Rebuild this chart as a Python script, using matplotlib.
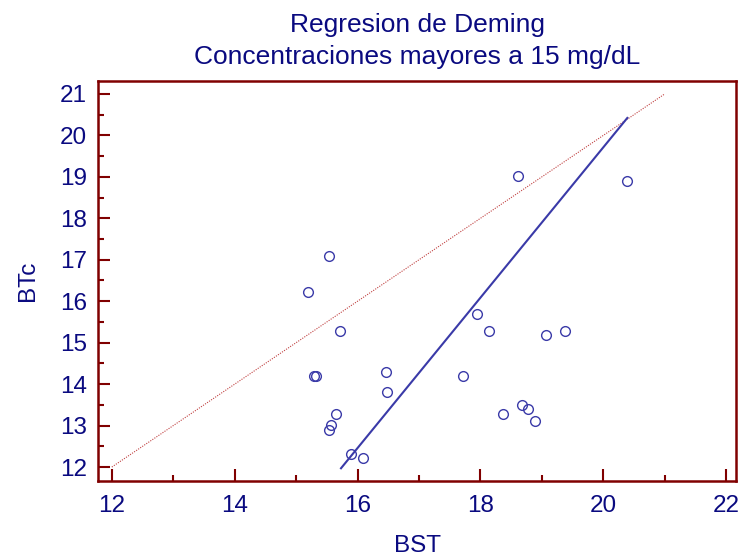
import matplotlib.pyplot as plt
from matplotlib.ticker import MultipleLocator

plt.rcParams['font.family'] = ['Liberation Sans', 'DejaVu Sans']

# BST vs BTc readings
bst = [18.61, 20.38, 15.54, 15.19, 17.95, 15.72, 18.14, 19.07, 19.38, 15.29,
       15.32, 16.46, 17.71, 16.48, 18.68, 18.78, 18.37, 18.88, 15.65, 15.57,
       15.53, 15.89, 16.08]
btc = [19.01, 18.91, 17.10, 16.21, 15.69, 15.29, 15.29, 15.19, 15.29, 14.20,
       14.20, 14.30, 14.20, 13.81, 13.50, 13.41, 13.29, 13.10, 13.29, 13.01,
       12.89, 12.31, 12.21]

# Deming fit end points and identity line
deming_x = [15.73, 20.39]
deming_y = [11.97, 20.42]
ident = [12, 21]

navy = '#0a0a80'
dark_red = '#800000'
blue = '#3a3aa8'

fig = plt.figure(figsize=(7.42, 5.58), dpi=100)
ax = fig.add_axes([0.1325, 0.1385, 0.8595, 0.717])

ax.plot(ident, ident, color='#c04040', linestyle=(0, (1, 1.2)), linewidth=0.8)
ax.plot(deming_x, deming_y, color=blue, linewidth=1.5)
ax.plot(bst, btc, 'o', markerfacecolor='none', markeredgecolor=blue,
        markersize=7, markeredgewidth=1.0)

ax.set_xlim(11.78, 22.16)
ax.set_ylim(11.67, 21.32)
ax.xaxis.set_major_locator(MultipleLocator(2))
ax.xaxis.set_minor_locator(MultipleLocator(1))
ax.yaxis.set_major_locator(MultipleLocator(1))
ax.yaxis.set_minor_locator(MultipleLocator(0.5))

for s in ax.spines.values():
    s.set_color(dark_red)
    s.set_linewidth(1.8)

ax.tick_params(which='both', direction='in', color=dark_red, width=1.5,
               top=False, right=False, labelcolor=navy, labelsize=17.5)
ax.tick_params(which='major', length=8.6)
ax.tick_params(which='minor', length=4.3)
ax.tick_params(axis='x', pad=10)
ax.tick_params(axis='y', pad=8)

ax.set_xlabel('BST', color=navy, fontsize=17.5, labelpad=13)
ax.set_ylabel('BTc', color=navy, fontsize=17.5, labelpad=15)
ax.set_title('Regresion de Deming\nConcentraciones mayores a 15 mg/dL',
             color=navy, fontsize=19, pad=12, linespacing=1.4)

fig.savefig('out.png', dpi=100)
